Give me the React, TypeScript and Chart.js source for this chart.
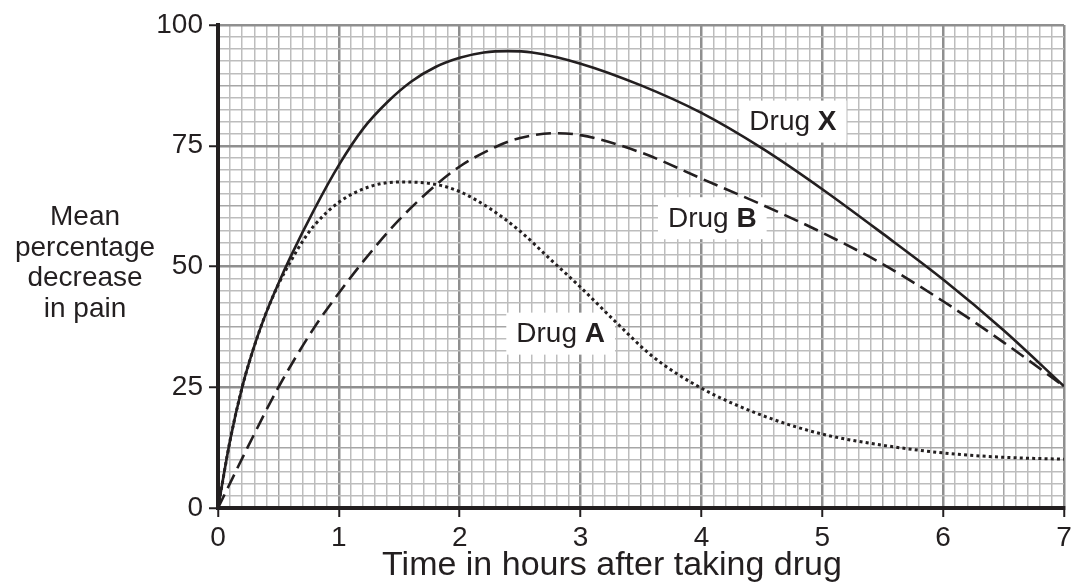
import React, { useEffect, useRef } from 'react';
import { Chart, registerables } from 'chart.js';

Chart.register(...registerables);

// ---- Data ----
const drugXHours = [0, 0.1, 0.2, 0.3, 0.4, 0.5, 0.6, 0.8, 1.0, 1.2, 1.4, 1.6, 1.8, 2.0, 2.2, 2.4, 2.6, 3.0, 3.5, 4.0, 4.5, 5.0, 5.5, 6.0, 6.5, 7.0];
const drugXValues = [0, 14, 25, 33.5, 40.5, 46.5, 52, 62, 71, 78.5, 84, 88.3, 91.3, 93.2, 94.3, 94.6, 94.3, 92, 87.5, 81.8, 74.5, 66, 56.8, 47.3, 36.8, 25.2];

const drugBHours = [0, 0.25, 0.5, 0.8, 1.0, 1.2, 1.5, 1.8, 2.0, 2.3, 2.5, 2.8, 3.0, 3.5, 4.0, 4.5, 5.0, 5.5, 6.0, 6.5, 7.0];
const drugBValues = [0, 12.8, 25, 37.5, 44.5, 51, 59.7, 66.8, 70.7, 74.8, 76.6, 77.6, 77.2, 73.6, 68.2, 62.8, 57, 50.5, 42.8, 34.3, 25.2];

const drugAHours = [0, 0.1, 0.2, 0.3, 0.4, 0.5, 0.6, 0.7, 0.8, 1.0, 1.25, 1.5, 1.8, 2.0, 2.25, 2.5, 2.75, 3.0, 3.3, 3.6, 4.0, 4.5, 5.0, 5.5, 6.0, 6.5, 7.0];
const drugAValues = [0, 14, 25, 33.5, 40.5, 46.3, 51, 55.2, 58.6, 63.3, 66.5, 67.5, 67, 65.5, 62, 57.3, 51.5, 45.7, 38.3, 31.3, 24.8, 19.2, 15.3, 13, 11.4, 10.5, 10.1];

const seriesNames = ['Drug X', 'Drug B', 'Drug A'];
const labelPrefix = 'Drug ';
const labelLetters = ['X', 'B', 'A'];
const labelHours = [4.757, 4.09, 2.835];
const labelPercents = [80, 60, 36.1];

const yTitleLines = ['Mean', 'percentage', 'decrease', 'in pain'];
const xTitle = 'Time in hours after taking drug';

const FONT = "'Liberation Sans', Arial, Helvetica, sans-serif";
const INK = '#231f20';

const toPoints = (xs: number[], ys: number[]) => xs.map((x, i) => ({ x, y: ys[i] }));

const near = (v: number, step: number) => Math.abs(v / step - Math.round(v / step)) < 1e-6;

const textPlugin = {
  id: 'textPlugin',
  beforeDatasetsDraw(chart: any) {
    const ctx = chart.ctx;
    const xs = chart.scales.x;
    const ys = chart.scales.y;
    ctx.save();
    ctx.textBaseline = 'middle';
    for (let i = 0; i < labelLetters.length; i++) {
      const cx = xs.getPixelForValue(labelHours[i]);
      const cy = ys.getPixelForValue(labelPercents[i]);
      ctx.font = `28px ${FONT}`;
      const w1 = ctx.measureText(labelPrefix).width;
      ctx.font = `bold 28px ${FONT}`;
      const w2 = ctx.measureText(labelLetters[i]).width;
      const tw = w1 + w2;
      const padX = 10;
      const h = 42;
      ctx.fillStyle = '#ffffff';
      ctx.fillRect(cx - tw / 2 - padX, cy - h / 2, tw + padX * 2, h);
      ctx.fillStyle = INK;
      ctx.textAlign = 'left';
      ctx.font = `28px ${FONT}`;
      ctx.fillText(labelPrefix, cx - tw / 2, cy + 1);
      ctx.font = `bold 28px ${FONT}`;
      ctx.fillText(labelLetters[i], cx - tw / 2 + w1, cy + 1);
    }
    ctx.restore();
  },
  afterDraw(chart: any) {
    const ctx = chart.ctx;
    const area = chart.chartArea;
    ctx.save();
    ctx.fillStyle = INK;
    ctx.font = `28px ${FONT}`;
    ctx.textAlign = 'center';
    ctx.textBaseline = 'alphabetic';
    const mid = (area.top + area.bottom) / 2;
    const spacing = 30.7;
    const first = mid - 41.5;
    yTitleLines.forEach((line, i) => {
      ctx.fillText(line, 85, first + i * spacing);
    });
    // x-axis title
    ctx.font = `34px ${FONT}`;
    ctx.fillText(xTitle, 612, 575);
    ctx.restore();
  },
};

export default function App() {
  const ref = useRef<HTMLCanvasElement | null>(null);

  useEffect(() => {
    if (!ref.current) return;
    const gridColor = (major: boolean, half: boolean) =>
      major ? '#8f8f8f' : half ? '#a6a6a6' : '#bdbdbd';

    const chart = new Chart(ref.current, {
      type: 'line',
      data: {
        datasets: [
          {
            label: seriesNames[0],
            data: toPoints(drugXHours, drugXValues),
            borderColor: INK,
            borderWidth: 2.6,
            pointRadius: 0,
            cubicInterpolationMode: 'monotone',
            fill: false,
          },
          {
            label: seriesNames[1],
            data: toPoints(drugBHours, drugBValues),
            borderColor: INK,
            borderWidth: 2.6,
            borderDash: [15, 7],
            pointRadius: 0,
            cubicInterpolationMode: 'monotone',
            fill: false,
          },
          {
            label: seriesNames[2],
            data: toPoints(drugAHours, drugAValues),
            borderColor: INK,
            borderWidth: 3,
            borderDash: [3, 3.2],
            borderCapStyle: 'butt',
            pointRadius: 0,
            cubicInterpolationMode: 'monotone',
            fill: false,
          },
        ],
      },
      options: {
        responsive: false,
        animation: false,
        events: [],
        layout: { padding: { top: 25, right: 8, left: 0, bottom: 0 } },
        plugins: {
          legend: { display: false },
          tooltip: { enabled: false },
          title: { display: false },
        },
        scales: {
          x: {
            type: 'linear',
            min: 0,
            max: 7,
            afterFit: (s: any) => {
              s.height = 75;
              s.paddingRight = 0;
              s.paddingLeft = 0;
            },
            ticks: {
              stepSize: 0.1,
              maxTicksLimit: 1000,
              autoSkip: false,
              maxRotation: 0,
              minRotation: 0,
              padding: 4,
              color: INK,
              font: { family: FONT, size: 28 },
              callback: (v: any) => (near(Number(v), 1) ? String(Math.round(Number(v))) : ''),
            },
            grid: {
              color: (c: any) => gridColor(near(c.tick.value, 1), near(c.tick.value, 0.5)),
              lineWidth: (c: any) => (near(c.tick.value, 1) ? 2.5 : 1.5),
              tickColor: (c: any) => (near(c.tick.value, 1) ? INK : 'rgba(0,0,0,0)'),
              tickWidth: 2,
              tickLength: 9,
              drawTicks: true,
            },
            border: { display: true, color: INK, width: 4 },
            title: { display: false },
          },
          y: {
            type: 'linear',
            min: 0,
            max: 100,
            afterFit: (s: any) => {
              s.width = 218;
            },
            ticks: {
              stepSize: 2.5,
              maxTicksLimit: 1000,
              autoSkip: false,
              padding: 6,
              color: INK,
              font: { family: FONT, size: 28 },
              callback: (v: any) => (near(Number(v), 25) ? String(Math.round(Number(v))) : ''),
            },
            grid: {
              color: (c: any) => gridColor(near(c.tick.value, 25), near(c.tick.value, 12.5)),
              lineWidth: (c: any) => (near(c.tick.value, 25) ? 2.5 : 1.5),
              tickColor: (c: any) => (near(c.tick.value, 25) ? INK : 'rgba(0,0,0,0)'),
              tickWidth: 2,
              tickLength: 9,
              drawTicks: true,
            },
            border: { display: true, color: INK, width: 4 },
          },
        },
      } as any,
      plugins: [textPlugin],
    });
    return () => chart.destroy();
  }, []);

  return (
    <div style={{ position: 'fixed', left: 0, top: 0, width: 1072, height: 583, background: '#ffffff' }}>
      <canvas ref={ref} width={1072} height={583} style={{ display: 'block' }} />
    </div>
  );
}
